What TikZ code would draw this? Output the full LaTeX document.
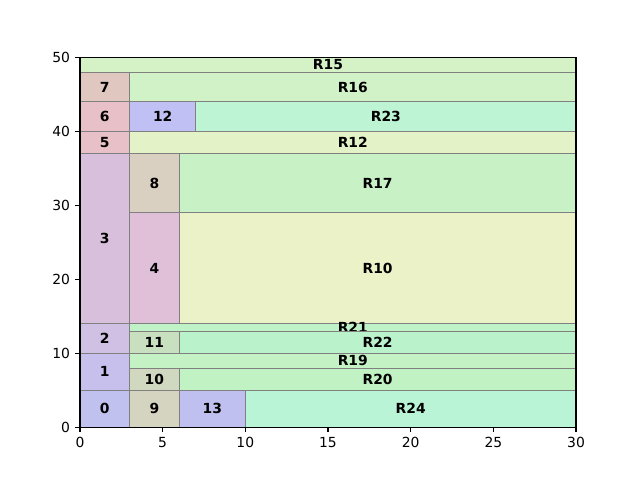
\documentclass[tikz,border=0pt]{standalone}
\usepackage{fontspec}
\setmainfont{DejaVu Sans}
\begin{document}
\begin{tikzpicture}[x=11.904pt,y=5.32224pt,
  cell/.style={draw=black!50, line width=0.7pt},
  lab/.style={font=\bfseries\fontsize{10}{12}\selectfont, inner sep=0pt},
  tick/.style={line width=0.8pt},
  ticklab/.style={font=\fontsize{10}{12}\selectfont, inner sep=0pt}]
\useasboundingbox (-57.6pt,-38.016pt) rectangle (403.2pt,307.584pt);
\fill[white] (-57.6pt,-38.016pt) rectangle (403.2pt,307.584pt);
\newcommand{\cellbox}[7]{%
  \filldraw[cell, fill=#5] (#1,#2) rectangle (#3,#4);
  \node[lab] (#7) at ({(#1+#3)/2},{(#2+#4)/2}) {#6};}
\definecolor{c0}{HTML}{C1C1F0}
\definecolor{c1}{HTML}{C8C0EC}
\definecolor{c2}{HTML}{D0C0E4}
\definecolor{c3}{HTML}{D8C0DC}
\definecolor{c4}{HTML}{E0C0D8}
\definecolor{c5}{HTML}{E8C0C8}
\definecolor{c6}{HTML}{E8C0C8}
\definecolor{c7}{HTML}{E0C8C0}
\definecolor{c8}{HTML}{DAD0C2}
\definecolor{c9}{HTML}{D4D4C0}
\definecolor{c10}{HTML}{D0D8C0}
\definecolor{c11}{HTML}{C8E0C0}
\definecolor{c12}{HTML}{C0C0F4}
\definecolor{c13}{HTML}{C0C0F0}
\definecolor{r15}{HTML}{D4F2C6}
\definecolor{r16}{HTML}{D0F2C6}
\definecolor{r23}{HTML}{BCF4D4}
\definecolor{r12}{HTML}{E4F2C8}
\definecolor{r17}{HTML}{C8F2C6}
\definecolor{r10}{HTML}{EBF2C8}
\definecolor{r21}{HTML}{C0F2C8}
\definecolor{r22}{HTML}{BAF2CC}
\definecolor{r19}{HTML}{C4F2C4}
\definecolor{r20}{HTML}{C0F2C4}
\definecolor{r24}{HTML}{BAF4D6}
\cellbox{0}{0}{3}{5}{c0}{0}{n0}
\cellbox{0}{5}{3}{10}{c1}{1}{n1}
\cellbox{0}{10}{3}{14}{c2}{2}{n2}
\cellbox{0}{14}{3}{37}{c3}{3}{n3}
\cellbox{3}{14}{6}{29}{c4}{4}{n4}
\cellbox{0}{37}{3}{40}{c5}{5}{n5}
\cellbox{0}{40}{3}{44}{c6}{6}{n6}
\cellbox{0}{44}{3}{48}{c7}{7}{n7}
\cellbox{3}{29}{6}{37}{c8}{8}{n8}
\cellbox{3}{0}{6}{5}{c9}{9}{n9}
\cellbox{3}{5}{6}{8}{c10}{10}{n10}
\cellbox{3}{10}{6}{13}{c11}{11}{n11}
\cellbox{3}{40}{7}{44}{c12}{12}{n12}
\cellbox{6}{0}{10}{5}{c13}{13}{n13}
\cellbox{0}{48}{30}{50}{r15}{R15}{nR15}
\cellbox{3}{44}{30}{48}{r16}{R16}{nR16}
\cellbox{7}{40}{30}{44}{r23}{R23}{nR23}
\cellbox{3}{37}{30}{40}{r12}{R12}{nR12}
\cellbox{6}{29}{30}{37}{r17}{R17}{nR17}
\cellbox{6}{14}{30}{29}{r10}{R10}{nR10}
\cellbox{3}{13}{30}{14}{r21}{R21}{nR21}
\cellbox{6}{10}{30}{13}{r22}{R22}{nR22}
\cellbox{3}{8}{30}{10}{r19}{R19}{nR19}
\cellbox{6}{5}{30}{8}{r20}{R20}{nR20}
\cellbox{10}{0}{30}{5}{r24}{R24}{nR24}
% axes frame
\draw[line width=0.8pt] (0,0) rectangle (30,50);
\foreach \v in {0,5,...,30} {
  \draw[tick] (\v,0) -- ++(0,-3.5pt);
  \node[ticklab, anchor=north] (xt\v) at ([yshift=-7pt]\v,0) {\v};
}
\foreach \v in {0,10,...,50} {
  \draw[tick] (0,\v) -- ++(-3.5pt,0);
  \node[ticklab, anchor=east] (yt\v) at ([xshift=-7pt]0,\v) {\v};
}
\end{tikzpicture}
\end{document}
